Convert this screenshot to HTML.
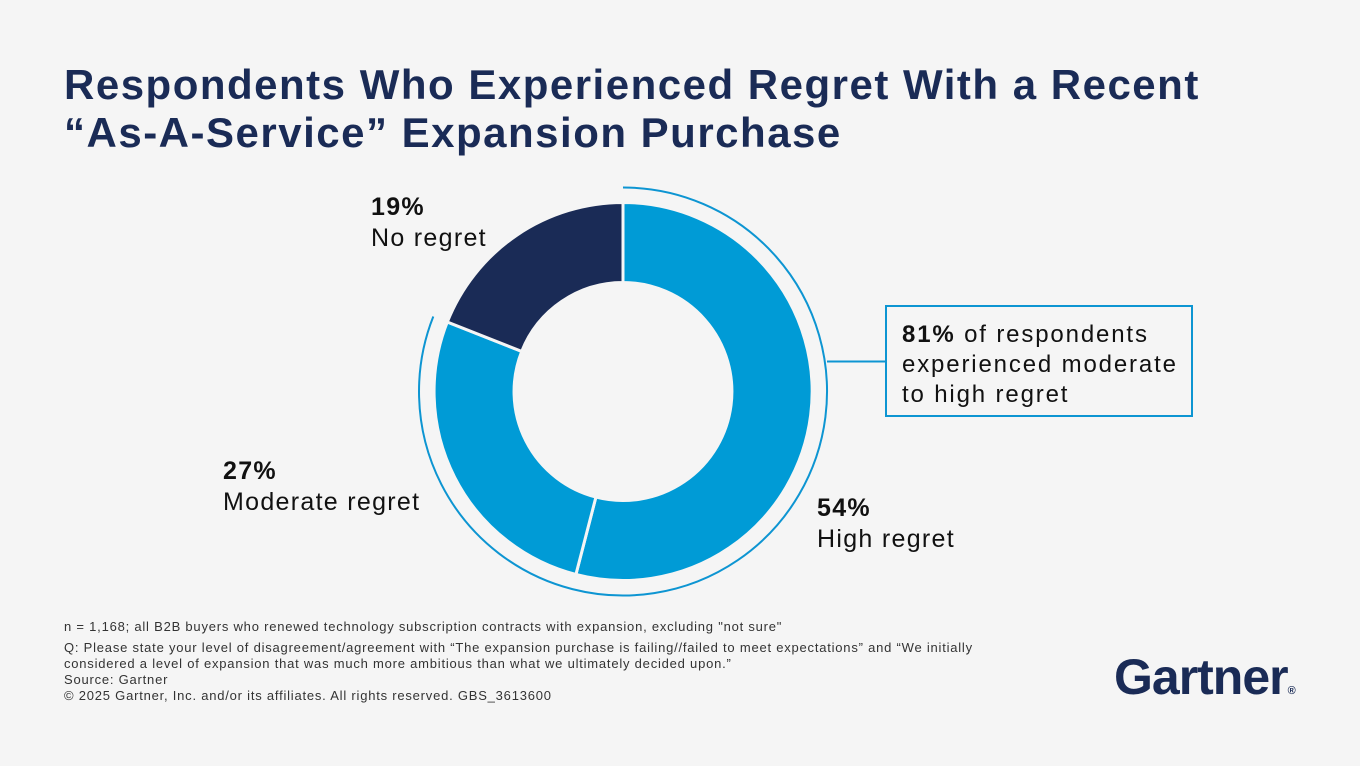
<!DOCTYPE html>
<html><head><meta charset="utf-8"><style>
body{margin:0;width:1360px;height:766px;background:#f5f5f5;font-family:"Liberation Sans",sans-serif;position:relative;overflow:hidden}
.t{position:absolute;left:64px;top:61px;font-size:42px;font-weight:bold;color:#1a2b56;line-height:48px;letter-spacing:1.5px;white-space:nowrap}
.l{position:absolute;font-size:25px;color:#111;line-height:31px;letter-spacing:1.3px;white-space:nowrap}
.l b{font-weight:bold}
.box{position:absolute;left:885px;top:305px;width:304px;height:108px;border:2px solid #0d95d2;font-size:24px;line-height:30px;color:#111;letter-spacing:1.85px;white-space:nowrap}
.box div{padding:13px 0 0 15px}
.f{position:absolute;left:64px;top:619px;font-size:13px;color:#333;line-height:16px;letter-spacing:0.78px;white-space:nowrap}
.g{position:absolute;left:1114px;top:648px;font-size:50px;font-weight:bold;color:#1a2b56;letter-spacing:-1px}
</style></head><body>
<div class="t">Respondents Who Experienced Regret With a Recent<br>“As-A-Service” Expansion Purchase</div>
<svg width="1360" height="766" style="position:absolute;left:0;top:0">
<g transform="translate(623,391.5)">
<path d="M0,-189 A189,189 0 1 1 -47.1,183.0 L-27.1,105.6 A109,109 0 1 0 0,-109Z" fill="#009bd6" stroke="#f5f5f5" stroke-width="3"/>
<path d="M-47.1,183.0 A189,189 0 0 1 -175.7,-69.5 L-101.3,-40.1 A109,109 0 0 0 -27.1,105.6Z" fill="#009bd6" stroke="#f5f5f5" stroke-width="3"/>
<path d="M-175.7,-69.5 A189,189 0 0 1 0,-189 L0,-109 A109,109 0 0 0 -101.3,-40.1Z" fill="#1a2b56" stroke="#f5f5f5" stroke-width="3"/>
<path d="M0,-204 A204,204 0 1 1 -189.7,-75.0" fill="none" stroke="#0d95d2" stroke-width="2"/>
<line x1="204" y1="-30" x2="262" y2="-30" stroke="#0d95d2" stroke-width="2"/>
</g></svg>
<div class="l" style="left:371px;top:192px"><b>19%</b><br>No regret</div>
<div class="l" style="left:223px;top:456px"><b>27%</b><br>Moderate regret</div>
<div class="l" style="left:817px;top:493px"><b>54%</b><br>High regret</div>
<div class="box"><div><b>81%</b> of respondents<br>experienced moderate<br>to high regret</div></div>
<div class="f">n = 1,168; all B2B buyers who renewed technology subscription contracts with expansion, excluding "not sure"<br><div style="height:5px"></div>Q: Please state your level of disagreement/agreement with “The expansion purchase is failing//failed to meet expectations” and “We initially<br>considered a level of expansion that was much more ambitious than what we ultimately decided upon.”<br>Source: Gartner<br>© 2025 Gartner, Inc. and/or its affiliates. All rights reserved. GBS_3613600</div>
<div class="g">Gartner<span style="font-size:11px">®</span></div>
</body></html>
